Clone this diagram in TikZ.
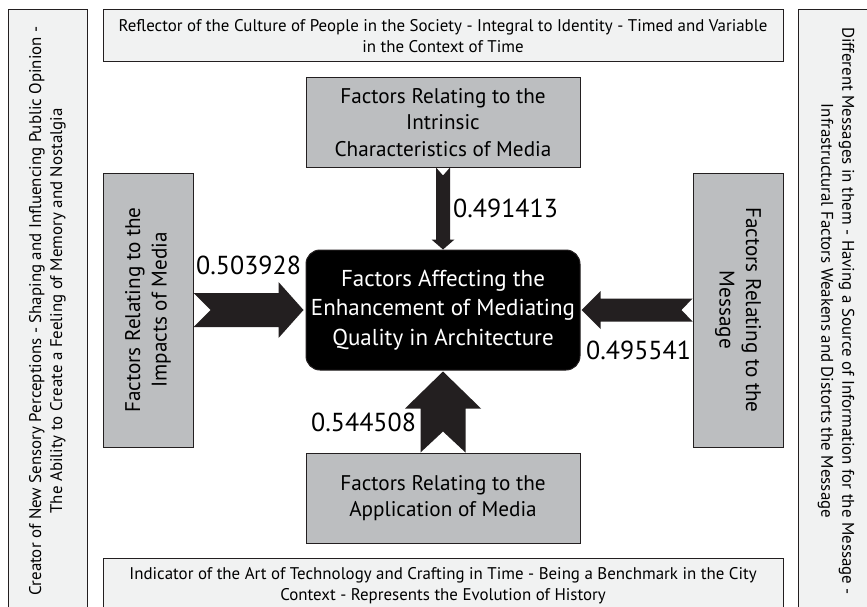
\documentclass[tikz,border=0pt]{standalone}
\usepackage{fontspec}
\setmainfont{PT Sans}
\usetikzlibrary{calc}
\definecolor{boxgray}{HTML}{BCBEC0}
\definecolor{lightbox}{HTML}{F1F2F2}
\definecolor{edgec}{HTML}{231F20}
\definecolor{arrowc}{HTML}{231F20}
\tikzset{
  outerbox/.style={draw=edgec, line width=1pt, fill=lightbox, inner sep=2pt, align=center,
    font=\fontsize{16.9}{21}\selectfont},
  factorbox/.style={draw=edgec, line width=1pt, fill=boxgray, inner sep=2pt, align=center,
    font=\fontsize{21.2}{26.5}\selectfont},
  corebox/.style={draw=edgec, line width=1pt, fill=black, text=white, rounded corners=14pt,
    align=center, font=\fontsize{23}{29.5}\selectfont},
  vallabel/.style={font=\fontsize{26}{26}\selectfont, inner sep=0pt},
  fatarrow/.style={fill=arrowc, draw=none}
}
\begin{document}
\begin{tikzpicture}[x=1pt,y=-1pt]
\useasboundingbox (0,0) rectangle (867,607);
\clip (0,0) rectangle (867,607);
\fill[white] (0,0) rectangle (867,607);
% outer boxes
\node[outerbox, rotate=90, minimum width=602pt, minimum height=79pt] (lft) at (47.5,311)
  {Creator of New Sensory Perceptions - Shaping and Influencing Public Opinion -\\The Ability to Create a Feeling of Memory and Nostalgia};
\node[outerbox, rotate=-90, minimum width=602pt, minimum height=76pt] (rgt) at (836,311)
  {Different Messages in them - Having a Source of Information for the Message -\\Infrastructural Factors Weakens and Distorts the Message};
\node[outerbox, minimum width=680pt, minimum height=52pt] (top) at (443,36)
  {Reflector of the Culture of People in the Society - Integral to Identity - Timed and Variable\\in the Context of Time};
\node[outerbox, minimum width=680pt, minimum height=56pt] (bot) at (443,586)
  {Indicator of the Art of Technology and Crafting in Time - Being a Benchmark in the City\\Context - Represents the Evolution of History};
% factor boxes
\node[factorbox, minimum width=274pt, minimum height=89pt] (intr) at (443,122.5)
  {Factors Relating to the\\Intrinsic\\Characteristics of Media};
\node[factorbox, rotate=90, minimum width=274pt, minimum height=90pt] (imp) at (148,310)
  {Factors Relating to the\\Impacts of Media};
\node[factorbox, rotate=-90, minimum width=274pt, minimum height=90pt] (msg) at (738,310)
  {Factors Relating to the\\Message};
\node[factorbox, minimum width=274pt, minimum height=90pt] (app) at (443,498)
  {Factors Relating to the\\Application of Media};
\node[corebox, minimum width=274pt, minimum height=120pt] (core) at (443,310)
  {Factors Affecting the\\Enhancement of Mediating\\Quality in Architecture};
% arrows
% left: impacts -> core
\fill[fatarrow] ($(imp.south)+(0,-17)$) -- ($(core.west)+(-27,-17)$) -- ($(core.west)+(-27,-28)$)
  -- ($(core.west)+(-2,0)$) -- ($(core.west)+(-27,28)$) -- ($(core.west)+(-27,17)$)
  -- ($(imp.south)+(0,17)$) -- ($(imp.south)+(17,0)$) -- cycle;
% top: intrinsic -> core
\fill[fatarrow] ($(intr.south)+(-7,0)$) -- ($(core.north)+(-7,-10)$) -- ($(core.north)+(-11.5,-10)$)
  -- (core.north) -- ($(core.north)+(11.5,-10)$) -- ($(core.north)+(7,-10)$)
  -- ($(intr.south)+(7,0)$) -- ($(intr.south)+(0,8)$) -- cycle;
% right: message -> core
\fill[fatarrow] ($(msg.south)+(0,-11.5)$) -- ($(core.east)+(20,-11.5)$) -- ($(core.east)+(20,-19)$)
  -- ($(core.east)+(1,0)$) -- ($(core.east)+(20,19)$) -- ($(core.east)+(20,11.5)$)
  -- ($(msg.south)+(0,11.5)$) -- ($(msg.south)+(-11,0)$) -- cycle;
% bottom: application -> core
\fill[fatarrow] ($(app.north)+(-22.5,0)$) -- ($(core.south)+(-22.5,38)$) -- ($(core.south)+(-38,38)$)
  -- ($(core.south)+(0,1)$) -- ($(core.south)+(38,38)$) -- ($(core.south)+(22.5,38)$)
  -- ($(app.north)+(22.5,0)$) -- ($(app.north)+(0,-21)$) -- cycle;
% labels
\node[vallabel, anchor=west] (l1) at (196,265) {0.503928};
\node[vallabel, anchor=west] (l2) at (453,208) {0.491413};
\node[vallabel, anchor=west] (l3) at (586,350) {0.495541};
\node[vallabel, anchor=west] (l4) at (311,422) {0.544508};
\end{tikzpicture}
\end{document}
